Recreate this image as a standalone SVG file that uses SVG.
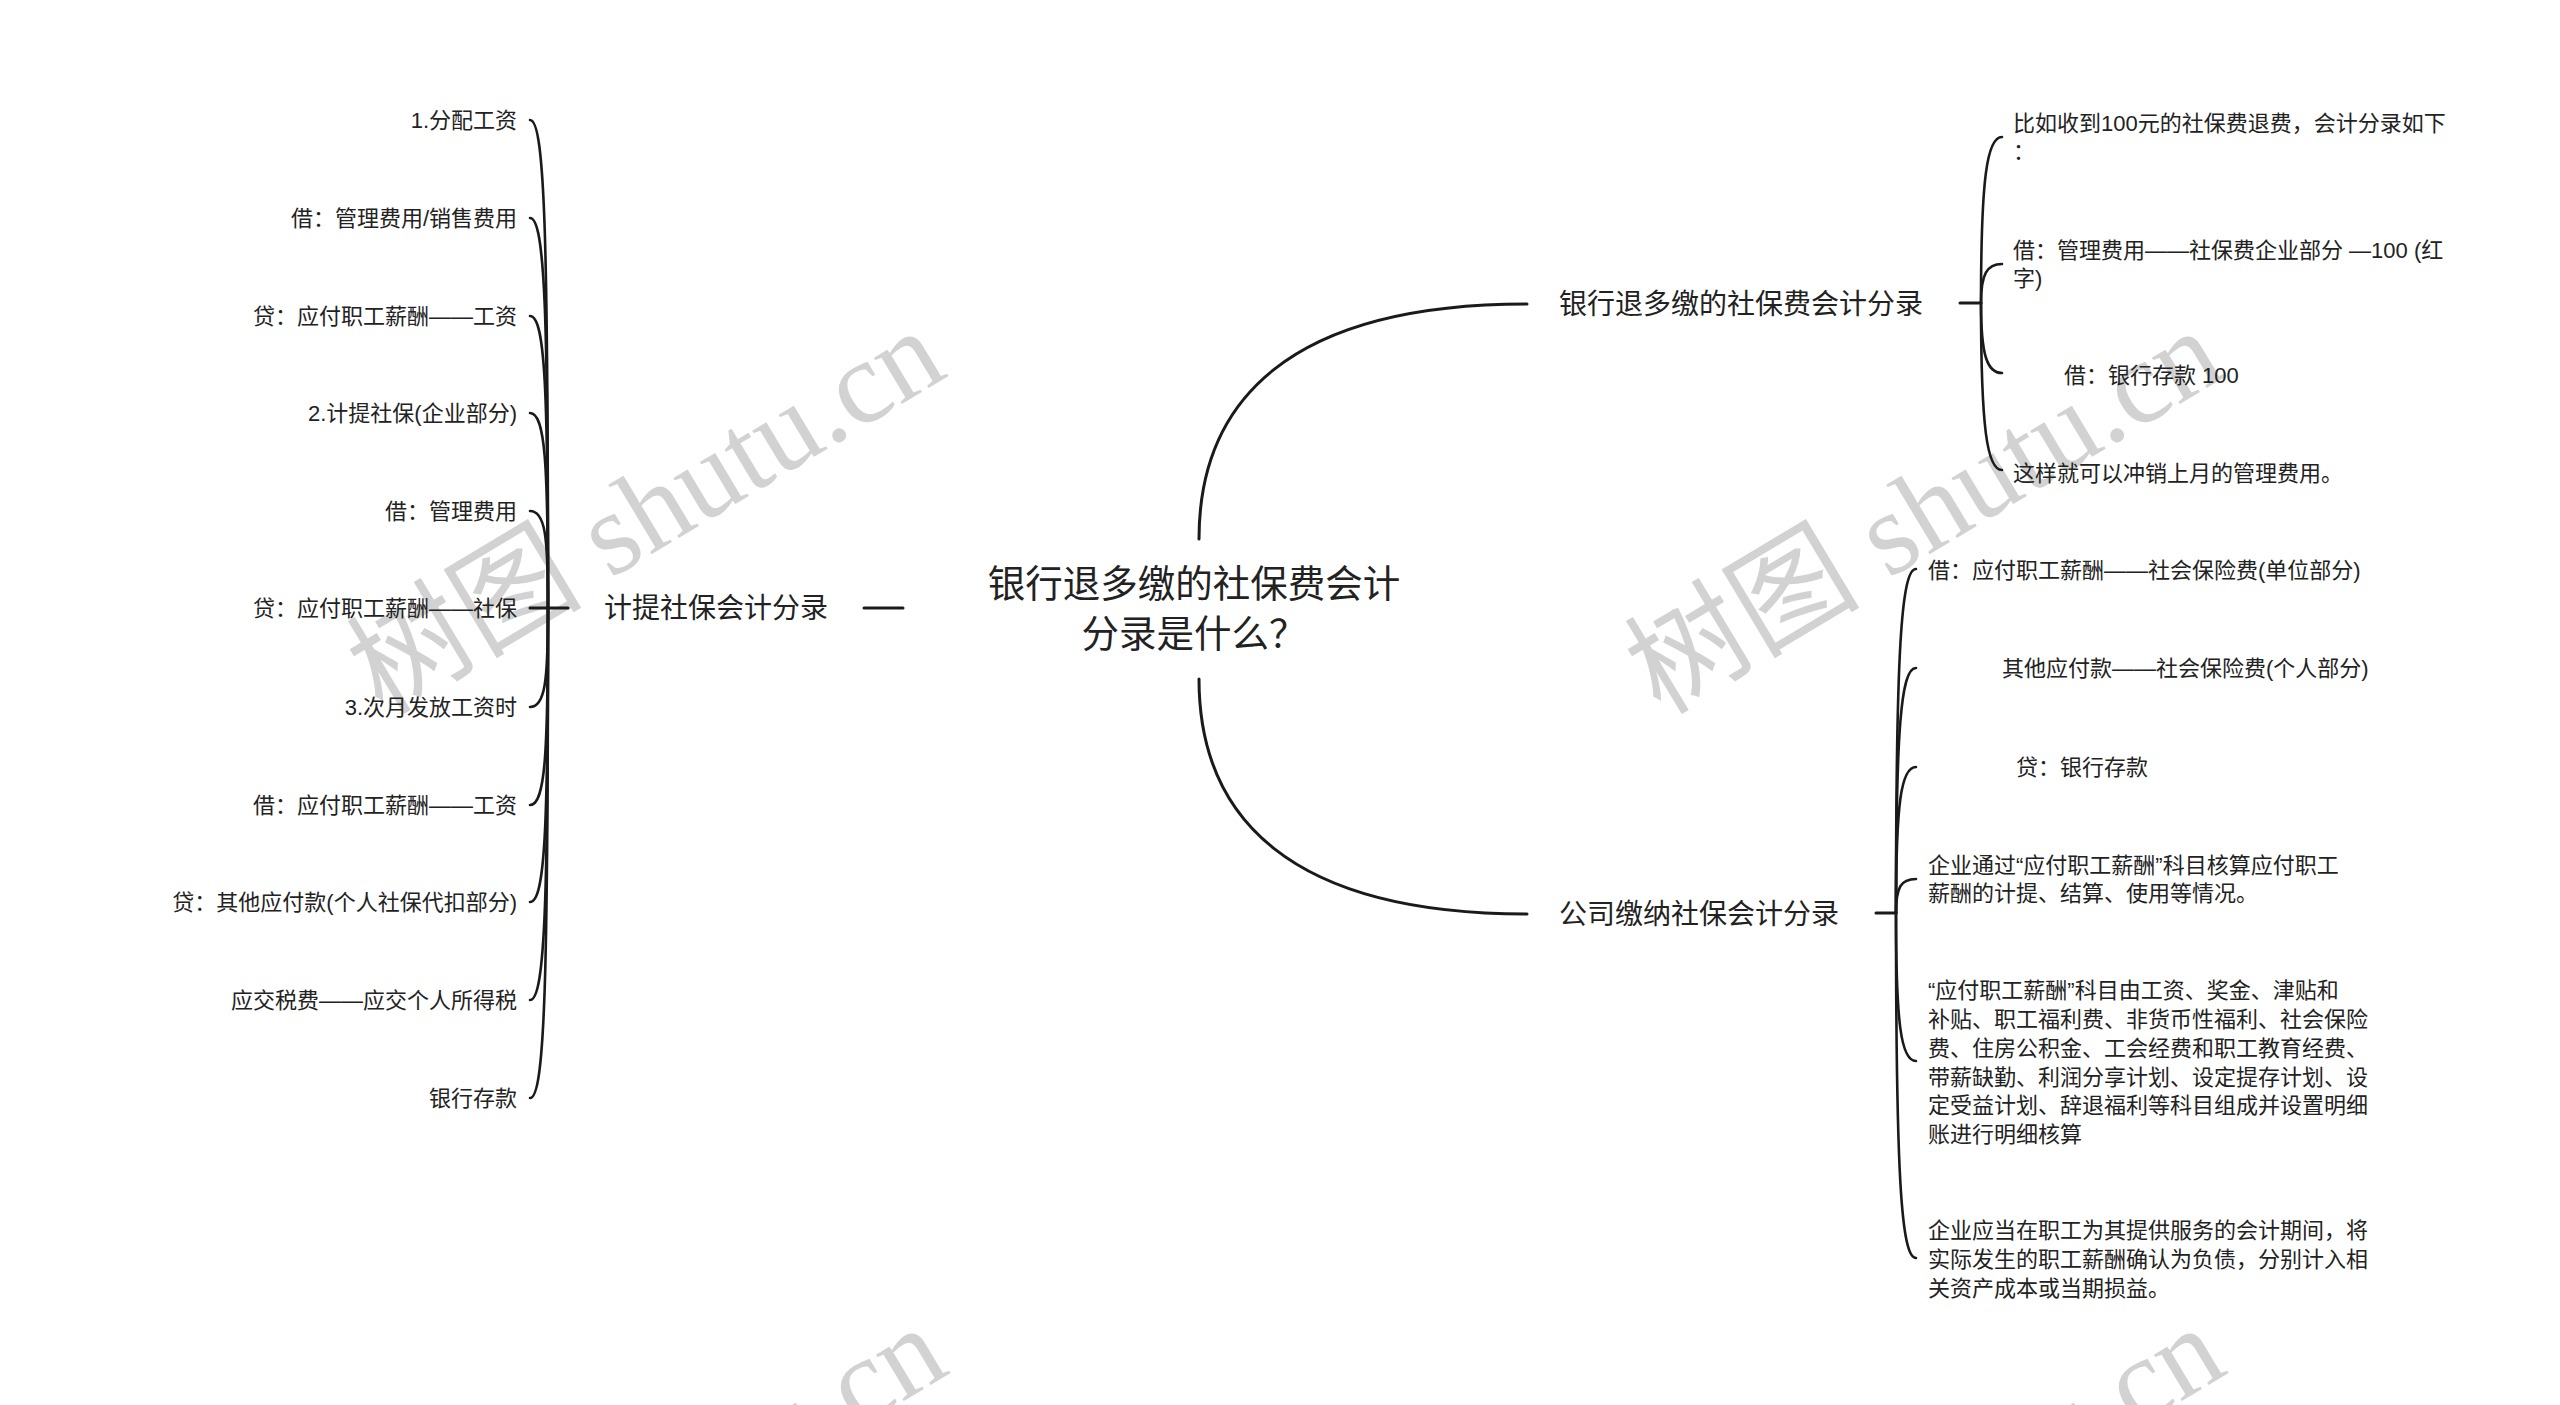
<svg xmlns="http://www.w3.org/2000/svg" width="2560" height="1405" viewBox="0 0 2560 1405">
<style>
text{font-family:"Liberation Sans","Noto Sans CJK SC",sans-serif;fill:#222}
.root{font-size:37.5px}
.br{font-size:28px}
.lf{font-size:22px}
.wm{font-family:"Liberation Serif","Noto Sans CJK SC",serif;font-size:118px;fill:#d2d2d2}
.c{fill:none;stroke:#1a1a1a;stroke-width:2.6;stroke-linecap:round}
.m{fill:none;stroke:#1a1a1a;stroke-width:3;stroke-linecap:round}
</style>
<rect width="2560" height="1405" fill="#fff"/>
<g id="watermarks">
<text class="wm" text-anchor="end" transform="translate(950,375) rotate(-31)">树图 shutu.cn</text>
<text class="wm" text-anchor="end" transform="translate(2228,375) rotate(-31)">树图 shutu.cn</text>
<text class="wm" text-anchor="end" transform="translate(952,1372) rotate(-31)">树图 shutu.cn</text>
<text class="wm" text-anchor="end" transform="translate(2230,1372) rotate(-31)">树图 shutu.cn</text>
</g>
<g id="connectors">
<path class="m" d="M1199,539 C1199,400 1290,304 1527,304"/>
<path class="m" d="M1199,679 C1199,818 1290,914 1527,914"/>
<path class="m" d="M864,608 L903,608"/>
<path class="m" d="M530,608 L568,608"/>
<path class="c" d="M530,120 C545,120 548,242 548,608"/>
<path class="c" d="M530,218 C545,218 548,315 548,608"/>
<path class="c" d="M530,316 C545,316 548,389 548,608"/>
<path class="c" d="M530,413 C545,413 548,462 548,608"/>
<path class="c" d="M530,511 C545,511 548,535 548,608"/>
<path class="c" d="M530,707 C545,707 548,682 548,608"/>
<path class="c" d="M530,805 C545,805 548,756 548,608"/>
<path class="c" d="M530,902 C545,902 548,828 548,608"/>
<path class="c" d="M530,1000 C545,1000 548,902 548,608"/>
<path class="c" d="M530,1098 C545,1098 548,975 548,608"/>
<path class="m" d="M1960,303 L1981,303"/>
<path class="c" d="M2002,137 C1987,137 1981,178 1981,303"/>
<path class="c" d="M2002,264 C1987,264 1981,274 1981,303"/>
<path class="c" d="M2002,373 C1987,373 1981,355 1981,303"/>
<path class="c" d="M2002,470 C1987,470 1981,428 1981,303"/>
<path class="m" d="M1876,913 L1896,913"/>
<path class="c" d="M1916,569 C1901,569 1896,655 1896,913"/>
<path class="c" d="M1916,668 C1901,668 1896,729 1896,913"/>
<path class="c" d="M1916,767 C1901,767 1896,803 1896,913"/>
<path class="c" d="M1916,879 C1901,879 1896,887 1896,913"/>
<path class="c" d="M1916,1061 C1901,1061 1896,1024 1896,913"/>
<path class="c" d="M1916,1258 C1901,1258 1896,1172 1896,913"/>
</g>
<g id="root"><text class="root" text-anchor="middle" x="1194" y="597">银行退多缴的社保费会计</text><text class="root" text-anchor="middle" x="1194" y="647">分录是什么？</text></g>
<g id="b-left"><text class="br" x="604" y="618">计提社保会计分录</text></g>
<g id="b-top"><text class="br" x="1559" y="314">银行退多缴的社保费会计分录</text></g>
<g id="b-bottom"><text class="br" x="1559" y="924">公司缴纳社保会计分录</text></g>
<g id="l1"><text class="lf" text-anchor="end" x="517" y="128">1.分配工资</text></g>
<g id="l2"><text class="lf" text-anchor="end" x="517" y="226">借：管理费用/销售费用</text></g>
<g id="l3"><text class="lf" text-anchor="end" x="517" y="324">贷：应付职工薪酬——工资</text></g>
<g id="l4"><text class="lf" text-anchor="end" x="517" y="421">2.计提社保(企业部分)</text></g>
<g id="l5"><text class="lf" text-anchor="end" x="517" y="519">借：管理费用</text></g>
<g id="l6"><text class="lf" text-anchor="end" x="517" y="616">贷：应付职工薪酬——社保</text></g>
<g id="l7"><text class="lf" text-anchor="end" x="517" y="715">3.次月发放工资时</text></g>
<g id="l8"><text class="lf" text-anchor="end" x="517" y="813">借：应付职工薪酬——工资</text></g>
<g id="l9"><text class="lf" text-anchor="end" x="517" y="910">贷：其他应付款(个人社保代扣部分)</text></g>
<g id="l10"><text class="lf" text-anchor="end" x="517" y="1008">应交税费——应交个人所得税</text></g>
<g id="l11"><text class="lf" text-anchor="end" x="517" y="1106">银行存款</text></g>
<g id="t1"><text class="lf" x="2013" y="131">比如收到100元的社保费退费，会计分录如下</text><text class="lf" x="2013" y="159">：</text></g>
<g id="t2"><text class="lf" x="2013" y="258">借：管理费用——社保费企业部分 —100 (红</text><text class="lf" x="2013" y="286">字)</text></g>
<g id="t3"><text class="lf" x="2064" y="383">借：银行存款 100</text></g>
<g id="t4"><text class="lf" x="2013" y="481">这样就可以冲销上月的管理费用。</text></g>
<g id="r1"><text class="lf" x="1928" y="578">借：应付职工薪酬——社会保险费(单位部分)</text></g>
<g id="r2"><text class="lf" x="2002" y="676">其他应付款——社会保险费(个人部分)</text></g>
<g id="r3"><text class="lf" x="2016" y="775">贷：银行存款</text></g>
<g id="r4"><text class="lf" x="1928" y="873">企业通过“应付职工薪酬”科目核算应付职工</text><text class="lf" x="1928" y="901">薪酬的计提、结算、使用等情况。</text></g>
<g id="r5"><text class="lf" x="1928" y="998">“应付职工薪酬”科目由工资、奖金、津贴和</text><text class="lf" x="1928" y="1027">补贴、职工福利费、非货币性福利、社会保险</text><text class="lf" x="1928" y="1056">费、住房公积金、工会经费和职工教育经费、</text><text class="lf" x="1928" y="1085">带薪缺勤、利润分享计划、设定提存计划、设</text><text class="lf" x="1928" y="1113">定受益计划、辞退福利等科目组成并设置明细</text><text class="lf" x="1928" y="1142">账进行明细核算</text></g>
<g id="r6"><text class="lf" x="1928" y="1238">企业应当在职工为其提供服务的会计期间，将</text><text class="lf" x="1928" y="1267">实际发生的职工薪酬确认为负债，分别计入相</text><text class="lf" x="1928" y="1296">关资产成本或当期损益。</text></g>
</svg>
